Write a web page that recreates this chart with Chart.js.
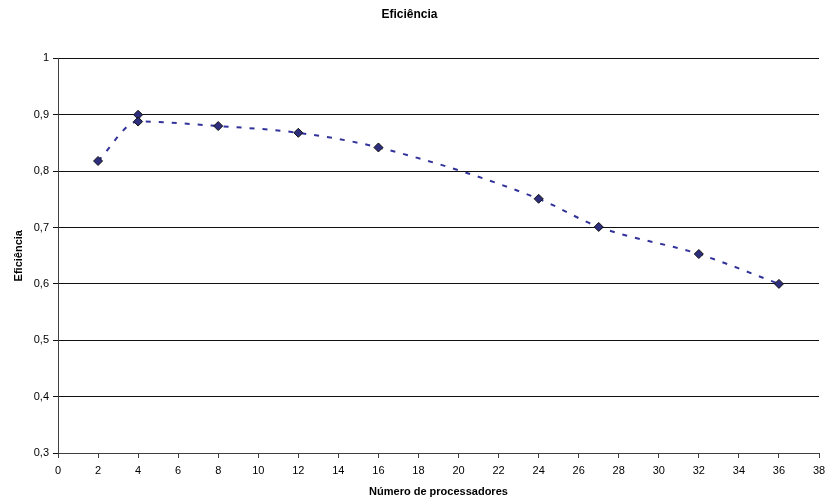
<!DOCTYPE html>
<html>
<head>
<meta charset="utf-8">
<script src="https://cdn.jsdelivr.net/npm/chart.js@4"></script>
<style>
  html, body { margin: 0; padding: 0; background: #fff; }
  #wrap { width: 827px; height: 497px; }
</style>
</head>
<body>
<div id="wrap"><canvas id="grafico" width="827" height="497"></canvas></div>
<script>
// número de processadores e eficiência medida
var processadores = [2, 4, 8, 12, 16, 24, 27, 32, 36];
var eficiencia = [0.818, 0.888, 0.880, 0.868, 0.842, 0.751, 0.701, 0.653, 0.600];
// segunda medição com 4 processadores
var procExtra = [4];
var eficExtra = [0.900];

var pontos = processadores.map(function (p, i) { return { x: p, y: eficiencia[i] }; });
var pontosExtra = procExtra.map(function (p, i) { return { x: p, y: eficExtra[i] }; });

Chart.defaults.font.family = "'Liberation Sans', Arial, sans-serif";
Chart.defaults.color = '#000';

new Chart(document.getElementById("grafico"), {
    type: 'scatter',
    data: {
        datasets: [{
            data: pontos,
            showLine: true,
            cubicInterpolationMode: 'monotone',
            borderColor: '#32339a',
            borderWidth: 2,
            borderDash: [5, 8],
            pointStyle: 'rectRot',
            pointRadius: 4.5,
            pointBackgroundColor: '#2e2e7e',
            pointBorderColor: '#111',
            pointBorderWidth: 1
        }, {
            data: pontosExtra,
            showLine: false,
            pointStyle: 'rectRot',
            pointRadius: 4.5,
            pointBackgroundColor: '#2e2e7e',
            pointBorderColor: '#111',
            pointBorderWidth: 1
        }]
    },
    options: {
        responsive: false,
        animation: false,
        layout: { padding: { left: 0, right: 8, top: 0, bottom: 0 } },
        plugins: {
            legend: { display: false },
            tooltip: { enabled: false },
            title: {
                display: true,
                text: 'Eficiência',
                font: { size: 12, weight: 'bold' },
                padding: { top: 7, bottom: 37 }
            }
        },
        scales: {
            x: {
                type: 'linear',
                min: 0,
                max: 38,
                ticks: { stepSize: 2, font: { size: 11 }, padding: 6, maxRotation: 0 },
                grid: { drawOnChartArea: false, drawTicks: true, tickLength: 5, color: '#404040' },
                border: { color: '#404040', width: 1 },
                title: {
                    display: true,
                    text: 'Número de processadores',
                    font: { size: 11, weight: 'bold' },
                    padding: { top: 6, bottom: -2 }
                },
                afterFit: function (scale) {
                    scale.height = 44;
                    scale.paddingRight = 0;
                }
            },
            y: {
                min: 0.3,
                max: 1,
                ticks: {
                    stepSize: 0.1,
                    font: { size: 11 },
                    padding: 4,
                    callback: function (v) {
                        var r = Math.round(v * 10) / 10;
                        return r === 1 ? '1' : r.toFixed(1).replace('.', ',');
                    }
                },
                grid: { color: '#111', lineWidth: 1, tickLength: 5 },
                border: { color: '#404040', width: 1 },
                title: {
                    display: true,
                    text: 'Eficiência',
                    font: { size: 11, weight: 'bold' },
                    padding: { top: 12, bottom: 0 }
                },
                afterFit: function (scale) { scale.width = 58; }
            }
        }
    }
});
</script>
</body>
</html>
